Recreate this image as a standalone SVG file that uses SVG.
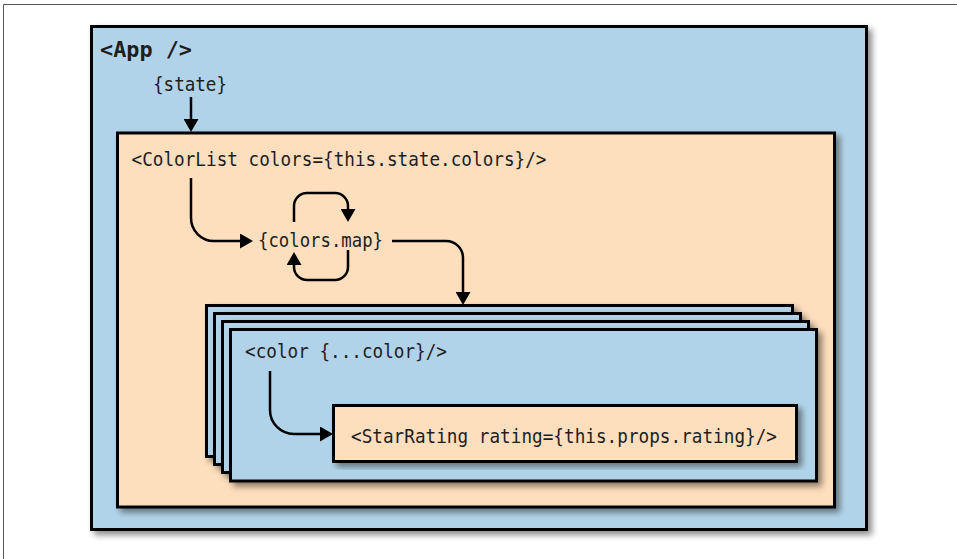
<svg xmlns="http://www.w3.org/2000/svg" width="957" height="559" viewBox="0 0 957 559">
  <defs>
    <filter id="sh" x="-5%" y="-5%" width="115%" height="120%">
      <feDropShadow dx="4" dy="4" stdDeviation="3" flood-color="#000" flood-opacity="0.45"/>
    </filter>
    <marker id="ah" viewBox="0 0 13 15" refX="3" refY="7.5" markerWidth="13" markerHeight="15" markerUnits="userSpaceOnUse" orient="auto">
      <path d="M0,0 L13,7.5 L0,15 z" fill="#000"/>
    </marker>
  </defs>
  <style>
    .blue { fill: #b1d3e9; stroke: #000; stroke-width: 3; }
    .orange { fill: #fddebd; stroke: #000; stroke-width: 3; }
    .t { font-family: "DejaVu Sans Mono", "Liberation Mono", monospace; font-size: 18.6px; fill: #1e1e1e; }
    .b { font-weight: bold; font-size: 22px; }
    .c { fill: none; stroke: #000; stroke-width: 2.5; marker-end: url(#ah); }
    .frame { stroke: #555; stroke-width: 1; fill: none; }
  </style>
  <rect width="957" height="559" fill="#fff"/>
  <path class="frame" d="M3.5,559 V4.5 H957"/>

  <g id="app">
    <rect class="blue" x="91.5" y="26.5" width="775" height="503" filter="url(#sh)"/>
    <text class="t b" x="100" y="57" textLength="92" lengthAdjust="spacingAndGlyphs">&lt;App /&gt;</text>
    <text class="t" x="153" y="91" textLength="74" lengthAdjust="spacingAndGlyphs">{state}</text>
  </g>

  <g id="colorlist">
    <rect class="orange" x="117.5" y="133" width="717" height="374" filter="url(#sh)"/>
    <text class="t" x="131.5" y="166" textLength="415" lengthAdjust="spacingAndGlyphs">&lt;ColorList colors={this.state.colors}/&gt;</text>
  </g>

  <g id="colorsmap">
    <text class="t" x="258" y="247" textLength="125" lengthAdjust="spacingAndGlyphs">{colors.map}</text>
  </g>

  <g id="color-stack">
    <rect class="blue" x="206.5" y="305.5" width="586" height="151" filter="url(#sh)"/>
    <rect class="blue" x="214.5" y="313.5" width="586" height="151" filter="url(#sh)"/>
    <rect class="blue" x="222.5" y="321.5" width="586" height="151" filter="url(#sh)"/>
  </g>

  <g id="color">
    <rect class="blue" x="230.5" y="329.5" width="586" height="151.5" filter="url(#sh)"/>
    <text class="t" x="245" y="358" textLength="202" lengthAdjust="spacingAndGlyphs">&lt;color {...color}/&gt;</text>
  </g>

  <g id="starrating">
    <rect class="orange" x="333.5" y="405.5" width="463" height="56" filter="url(#sh)"/>
    <text class="t" x="351" y="443" textLength="426" lengthAdjust="spacingAndGlyphs">&lt;StarRating rating={this.props.rating}/&gt;</text>
  </g>

  <g id="connectors">
    <path class="c" d="M191,97 V122"/>
    <path class="c" d="M191,178 V218 C191,230.7 201.3,241 214,241 H243"/>
    <path class="c" d="M294,222 V206 C294,198.8 299.8,193 307,193 H335 C342.2,193 348,198.8 348,206 V212"/>
    <path class="c" d="M348,250 V267 C348,274.2 342.2,280 335,280 H307 C299.8,280 294,274.2 294,267 V262"/>
    <path class="c" d="M392,241 H446 C455.4,241 463,248.6 463,258 V295"/>
    <path class="c" d="M270,371 V410 C270,423.3 280.7,434 294,434 H323"/>
  </g>
</svg>
